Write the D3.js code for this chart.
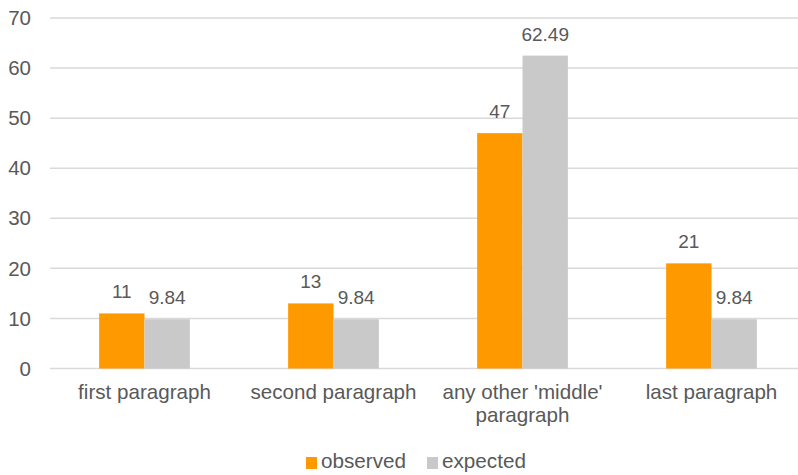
<!DOCTYPE html>
<html><head><meta charset="utf-8">
<script src="https://cdn.jsdelivr.net/npm/d3@7"></script>
<style>html,body{margin:0;padding:0;background:#fff;}svg{display:block;}</style>
</head><body>
<svg id="chart" width="798" height="475"></svg>
<script>
const categories = [["first paragraph"], ["second paragraph"], ["any other 'middle'", "paragraph"], ["last paragraph"]];
const seriesNames = ["observed", "expected"];
const observed = [11, 13, 47, 21];
const expected = [9.84, 9.84, 62.49, 9.84];
const observedLabels = ["11", "13", "47", "21"];
const expectedLabels = ["9.84", "9.84", "62.49", "9.84"];
const yTicks = [0, 10, 20, 30, 40, 50, 60, 70];
const colors = ["#FF9900", "#C9C9C9"];

const svg = d3.select("#chart");
const font = "'Liberation Sans', Arial, sans-serif";
const textColor = "#595959";

const x = d3.scaleBand().domain(d3.range(categories.length)).range([50, 806]).paddingInner(0.52).paddingOuter(0.26);
const xs = d3.scaleBand().domain([0, 1]).range([0, x.bandwidth()]);
const y = d3.scaleLinear().domain([0, 70]).range([368.5, 18]);

// gridlines
svg.append("g").selectAll("line").data(yTicks).join("line")
  .attr("x1", 50).attr("x2", 798)
  .attr("y1", d => y(d)).attr("y2", d => y(d))
  .attr("stroke", "#D9D9D9").attr("stroke-width", 1.5);

// y tick labels
svg.append("g").selectAll("text").data(yTicks).join("text")
  .attr("x", 31).attr("y", d => y(d)).attr("dy", "0.35em")
  .attr("text-anchor", "end").attr("font-family", font).attr("font-size", 20.5)
  .attr("fill", textColor).text(d => d);

const series = [observed, expected];
const labels = [observedLabels, expectedLabels];
series.forEach((vals, si) => {
  const g = svg.append("g");
  g.selectAll("rect").data(vals).join("rect")
    .attr("x", (d, i) => x(i) + xs(si)).attr("width", xs.bandwidth())
    .attr("y", d => y(d)).attr("height", d => y(0) - y(d))
    .attr("fill", colors[si]);
  g.selectAll("text").data(vals).join("text")
    .attr("x", (d, i) => x(i) + xs(si) + xs.bandwidth() / 2)
    .attr("y", d => y(d) - 15)
    .attr("text-anchor", "middle").attr("font-family", font).attr("font-size", 19)
    .attr("fill", textColor).text((d, i) => labels[si][i]);
});

// category labels
const cg = svg.append("g");
categories.forEach((lines, i) => {
  const t = cg.append("text").attr("text-anchor", "middle").attr("font-family", font)
    .attr("font-size", 20.6).attr("fill", textColor);
  lines.forEach((ln, k) => {
    t.append("tspan").attr("x", x(i) + x.bandwidth() / 2).attr("y", 399 + k * 23).text(ln);
  });
});

// legend
const legend = svg.append("g");
const legendX = [306, 427];
seriesNames.forEach((name, si) => {
  legend.append("rect").attr("x", legendX[si]).attr("y", 457).attr("width", 11).attr("height", 12).attr("fill", colors[si]);
  legend.append("text").attr("x", legendX[si] + 15).attr("y", 468)
    .attr("font-family", font).attr("font-size", 20.7).attr("fill", textColor).text(name);
});
</script>
</body></html>
